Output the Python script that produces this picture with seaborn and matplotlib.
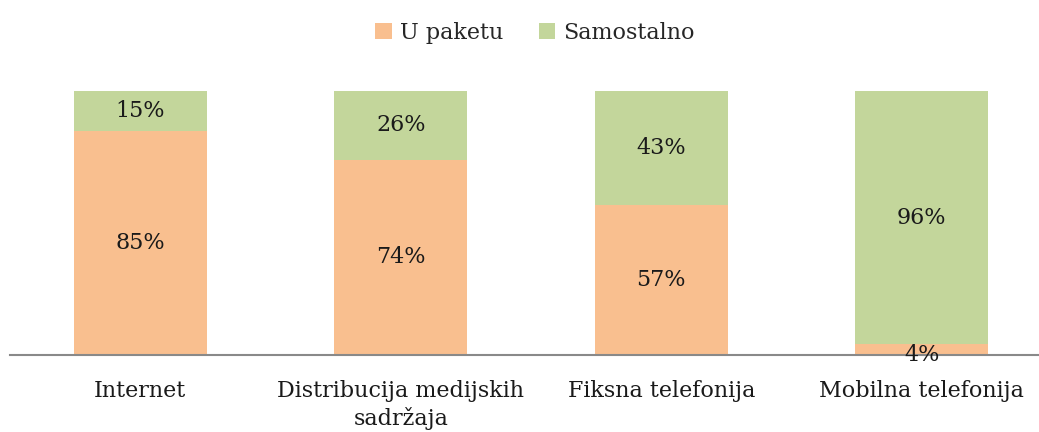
import matplotlib
matplotlib.use("Agg")
import matplotlib.pyplot as plt
import seaborn as sns
import pandas as pd

categories = ["Internet", "Distribucija medijskih\nsadržaja", "Fiksna telefonija", "Mobilna telefonija"]
u_paketu = [85, 74, 57, 4]
samostalno = [15, 26, 43, 96]
series_names = ["U paketu", "Samostalno"]
colors = ["#F9BF8F", "#C3D69B"]

sns.set_theme(style="white")
plt.rcParams["font.family"] = ["DejaVu Serif"]

df = pd.DataFrame({"cat": categories, "u": u_paketu, "s": samostalno})
df["total"] = df["u"] + df["s"]

fig = plt.figure(figsize=(10.39, 4.32), dpi=100)
ax = fig.add_axes([10 / 1039, 1 - 355 / 432, 1029 / 1039, (355 - 91) / 432])

sns.barplot(data=df, x="cat", y="total", color=colors[1], width=0.51, ax=ax,
            saturation=1, label=series_names[1], edgecolor="none")
sns.barplot(data=df, x="cat", y="u", color=colors[0], width=0.51, ax=ax,
            saturation=1, label=series_names[0], edgecolor="none")

fs = 16
txt = "#1a1a1a"
for i, (u, s) in enumerate(zip(u_paketu, samostalno)):
    ax.text(i, u / 2 if u > 8 else 0, f"{u}%", ha="center", va="center", fontsize=fs, color=txt)
    ax.text(i, u + s / 2, f"{s}%", ha="center", va="center", fontsize=fs, color=txt)

ax.set_xlim(-0.5, 3.45)
ax.set_ylim(0, 100)
ax.set_xlabel("")
ax.set_ylabel("")
ax.set_yticks([])
for sp in ["top", "right", "left"]:
    ax.spines[sp].set_visible(False)
ax.spines["bottom"].set_color("#898989")
ax.spines["bottom"].set_linewidth(1.5)
ax.tick_params(axis="x", length=0, pad=18, labelsize=fs, colors=txt)
for lbl in ax.get_xticklabels():
    lbl.set_linespacing(1.3)

handles, labels = ax.get_legend_handles_labels()
order = [labels.index(n) for n in series_names]
ax.legend([handles[i] for i in order], [labels[i] for i in order],
          loc="upper center", bbox_to_anchor=((535 - 10) / 1029, 1 + (91 - 2) / 264),
          ncol=2, frameon=False, fontsize=fs, handlelength=0.75, handleheight=0.75,
          handletextpad=0.35, columnspacing=1.6)

fig.savefig("out.png", dpi=100)
